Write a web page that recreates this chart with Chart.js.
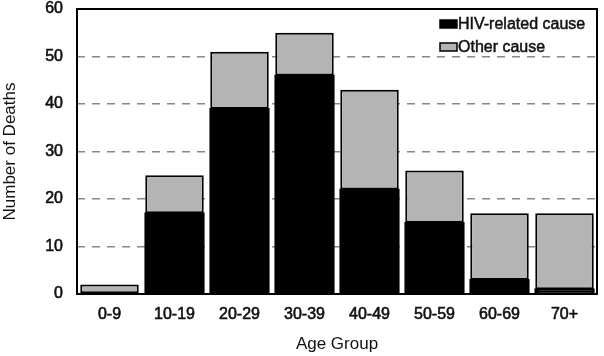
<!DOCTYPE html>
<html>
<head>
<meta charset="utf-8">
<script src="https://cdn.jsdelivr.net/npm/chart.js@4/dist/chart.umd.min.js"></script>
<style>
  html, body { margin: 0; padding: 0; background: #fff; }
  #wrap { width: 604px; height: 356px; position: relative; }
</style>
</head>
<body>
<div id="wrap"><canvas id="c" width="604" height="356"></canvas></div>
<script>
const categories = ["0-9", "10-19", "20-29", "30-39", "40-49", "50-59", "60-69", "70+"];
const hivRelated = [0, 17, 39, 46, 22, 15, 3, 1];
const otherCause = [2, 8, 12, 9, 21, 11, 14, 16];
const seriesNames = ["HIV-related cause", "Other cause"];
const yTicks = [0, 10, 20, 30, 40, 50, 60];

const FONT = "'Liberation Sans', Arial, Helvetica, sans-serif";

const framePlugin = {
  id: 'frame',
  afterDatasetsDraw(chart) {
    const {ctx, chartArea: a} = chart;
    ctx.save();
    ctx.strokeStyle = '#000';
    ctx.lineWidth = 2;
    ctx.strokeRect(a.left, a.top, a.right - a.left, a.bottom - a.top);
    ctx.restore();
  },
  afterDraw(chart) {
    const {ctx, chartArea: a} = chart;
    const ds = chart.data.datasets;
    ctx.save();
    ctx.font = '16px ' + FONT;
    ctx.textBaseline = 'alphabetic';
    ctx.textAlign = 'left';
    const x0 = a.right - 157;
    const rows = [a.top + 11, a.top + 34];
    ds.forEach((d, i) => {
      const y = rows[i];
      ctx.fillStyle = d.backgroundColor;
      ctx.fillRect(x0, y, 17, 8);
      ctx.strokeStyle = '#000';
      ctx.lineWidth = 1.5;
      ctx.strokeRect(x0, y, 17, 8);
      ctx.fillStyle = '#111';
      ctx.strokeStyle = '#111';
      ctx.lineWidth = 0.5;
      ctx.fillText(d.label, x0 + 18, y + 9);
      ctx.strokeText(d.label, x0 + 18, y + 9);
    });
    ctx.restore();
  }
};

new Chart(document.getElementById('c'), {
  type: 'bar',
  data: {
    labels: categories,
    datasets: [
      { label: seriesNames[0], data: hivRelated, backgroundColor: '#000000', borderColor: '#000', borderWidth: 2, borderSkipped: false, inflateAmount: 1 },
      { label: seriesNames[1], data: otherCause, backgroundColor: '#b4b4b4', borderColor: '#000', borderWidth: 2, borderSkipped: false }
    ]
  },
  options: {
    responsive: false,
    animation: false,
    devicePixelRatio: 1,
    layout: { padding: { top: 9, right: 7, left: 0, bottom: 0 } },
    plugins: { legend: { display: false }, tooltip: { enabled: false } },
    datasets: { bar: { categoryPercentage: 1, barPercentage: 0.9 } },
    scales: {
      x: {
        stacked: true,
        grid: { display: false, drawTicks: false },
        border: { display: false },
        ticks: { color: '#111', font: { family: FONT, size: 16 }, padding: 11, maxRotation: 0, textStrokeColor: '#111', textStrokeWidth: 0.6 },
        title: { display: true, text: 'Age Group', color: '#111', font: { family: FONT, size: 17 }, padding: { top: 0, bottom: 1 } },
        afterFit(s) { s.height = 62; s.paddingLeft = 0; s.paddingRight = 0; }
      },
      y: {
        stacked: true,
        min: 0, max: 60,
        afterBuildTicks(s) { s.ticks = yTicks.map(v => ({ value: v })); },
        grid: {
          drawTicks: false,
          lineWidth: 1.5,
          color: ctx => (ctx.tick && (ctx.tick.value === 0 || ctx.tick.value === 60)) ? 'rgba(0,0,0,0)' : '#888'
        },
        border: { display: false, dash: [8, 7] },
        ticks: { color: '#111', font: { family: FONT, size: 16 }, padding: 14, textStrokeColor: '#111', textStrokeWidth: 0.6 },
        title: { display: true, text: 'Number of Deaths', color: '#111', font: { family: FONT, size: 17 }, padding: { top: 0, bottom: 0 } },
        afterFit(s) { s.width = 77; s.paddingTop = 0; s.paddingBottom = 0; }
      }
    }
  },
  plugins: [framePlugin]
});
</script>
</body>
</html>
